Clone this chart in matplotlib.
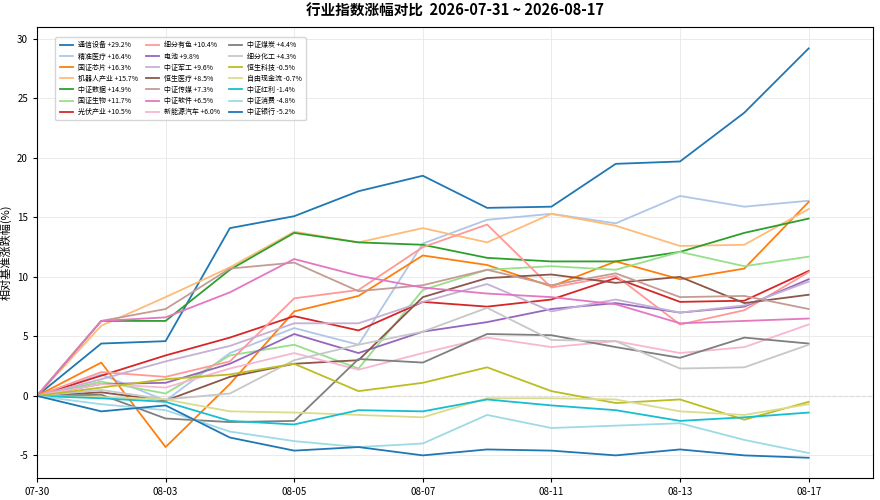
import matplotlib
matplotlib.use("Agg")
import matplotlib.pyplot as plt

plt.rcParams['font.family'] = ['Noto Sans CJK SC', 'DejaVu Sans']
plt.rcParams['axes.unicode_minus'] = False

dates = ["07-30", "07-31", "08-03", "08-04", "08-05", "08-06", "08-07",
         "08-10", "08-11", "08-12", "08-13", "08-14", "08-17"]
tick_labels = ["07-30", "08-03", "08-05", "08-07", "08-11", "08-13", "08-17"]

names = ["通信设备", "精准医疗", "国证芯片", "机器人产业", "中证数据", "国证生物", "光伏产业",
         "细分有色", "电池", "中证军工", "恒生医疗", "中证传媒", "中证软件", "新能源汽车",
         "中证煤炭", "细分化工", "恒生科技", "自由现金流", "中证红利", "中证消费", "中证银行"]

s_tongxin = [0, 4.4, 4.6, 14.1, 15.1, 17.2, 18.5, 15.8, 15.9, 19.5, 19.7, 23.8, 29.2]
s_jingzhun = [0, 1.8, -0.4, 3.6, 5.7, 4.3, 12.8, 14.8, 15.3, 14.5, 16.8, 15.9, 16.4]
s_xinpian = [0, 2.8, -4.3, 1.0, 7.1, 8.4, 11.8, 11.0, 9.2, 11.3, 9.8, 10.7, 16.3]
s_jiqiren = [0, 5.9, 8.3, 10.8, 13.8, 12.9, 14.1, 12.9, 15.3, 14.3, 12.6, 12.7, 15.7]
s_shuju = [0, 6.3, 6.3, 10.6, 13.7, 12.9, 12.7, 11.6, 11.3, 11.3, 12.1, 13.7, 14.9]
s_shengwu = [0, 1.2, 0.2, 3.4, 4.3, 2.3, 8.9, 10.6, 10.9, 10.6, 12.1, 10.9, 11.7]
s_guangfu = [0, 1.7, 3.4, 4.9, 6.7, 5.5, 7.9, 7.5, 8.1, 9.9, 7.9, 8.0, 10.5]
s_youse = [0, 2.0, 1.6, 2.9, 8.2, 8.9, 12.5, 14.4, 9.1, 10.1, 6.0, 7.2, 10.4]
s_dianchi = [0, 1.0, 1.1, 2.7, 5.2, 3.6, 5.4, 6.2, 7.3, 7.8, 7.0, 7.5, 9.8]
s_jungong = [0, 1.4, 2.9, 4.2, 6.1, 6.1, 7.9, 9.4, 7.1, 8.1, 7.0, 7.6, 9.6]
s_hsyiliao = [0, 0.3, -0.4, 1.6, 2.7, 3.0, 8.3, 9.9, 10.2, 9.5, 10.0, 7.8, 8.5]
s_chuanmei = [0, 6.3, 7.3, 10.7, 11.2, 8.8, 9.3, 10.6, 9.3, 10.3, 8.3, 8.4, 7.3]
s_ruanjian = [0, 6.3, 6.6, 8.7, 11.5, 10.1, 9.1, 8.6, 8.3, 7.7, 6.1, 6.3, 6.5]
s_xinnengyuan = [0, 1.0, 0.7, 2.3, 3.6, 2.2, 3.6, 4.9, 4.1, 4.6, 3.6, 4.1, 6.0]
s_meitan = [0, 0.1, -1.9, -2.2, -2.1, 3.1, 2.8, 5.2, 5.1, 4.1, 3.2, 4.9, 4.4]
s_huagong = [0, 0.5, -0.3, 0.2, 3.0, 4.3, 5.4, 7.4, 4.7, 4.6, 2.3, 2.4, 4.3]
s_hskeji = [0, 0.7, 1.4, 1.8, 2.7, 0.4, 1.1, 2.4, 0.4, -0.6, -0.3, -2.0, -0.5]
s_xianjinliu = [0, -0.1, -0.3, -1.3, -1.4, -1.6, -1.8, -0.2, -0.2, -0.3, -1.3, -1.6, -0.7]
s_hongli = [0, -0.2, -0.5, -2.1, -2.4, -1.2, -1.3, -0.3, -0.8, -1.2, -2.1, -1.8, -1.4]
s_xiaofei = [0, -0.7, -1.2, -3.0, -3.8, -4.3, -4.0, -1.6, -2.7, -2.5, -2.3, -3.7, -4.8]
s_yinhang = [0, -1.3, -0.8, -3.5, -4.6, -4.3, -5.0, -4.5, -4.6, -5.0, -4.5, -5.0, -5.2]

series = [s_tongxin, s_jingzhun, s_xinpian, s_jiqiren, s_shuju, s_shengwu, s_guangfu,
          s_youse, s_dianchi, s_jungong, s_hsyiliao, s_chuanmei, s_ruanjian, s_xinnengyuan,
          s_meitan, s_huagong, s_hskeji, s_xianjinliu, s_hongli, s_xiaofei, s_yinhang]

colors = list(plt.get_cmap('tab20').colors)

fig = plt.figure(figsize=(8.8, 5.0), dpi=100)
ax = fig.add_axes([0.042, 0.044, 0.950, 0.902])

x = list(range(len(dates)))
for i, (name, vals) in enumerate(zip(names, series)):
    ax.plot(x, vals, color=colors[i % 20], linewidth=1.3,
            label=f"{name} {vals[-1]:+.1f}%")

ax.axhline(0, color='#aaaaaa', linewidth=0.8, linestyle='--', zorder=0)

ax.set_xlim(0, 13.0)
ax.set_ylim(-6.9, 31.0)
tick_pos = [dates.index(t) for t in tick_labels]
ax.set_xticks(tick_pos)
ax.set_xticklabels(tick_labels, fontsize=7)
ax.set_yticks([-5, 0, 5, 10, 15, 20, 25, 30])
ax.tick_params(axis='y', labelsize=7, length=3)
ax.tick_params(axis='x', length=3)
ax.grid(True, color='#e8e8e8', linewidth=0.6)
ax.set_axisbelow(True)
ax.set_ylabel("相对基准涨跌幅(%)", fontsize=8, labelpad=4)

ax.set_title("行业指数涨幅对比  2026-07-31 ~ 2026-08-17", fontsize=10.5,
             fontweight='bold', pad=8)

leg = ax.legend(loc='upper left', ncol=3, fontsize=5.0, frameon=True,
                bbox_to_anchor=(0.018, 0.985), handlelength=1.9,
                handletextpad=0.7, columnspacing=1.2, labelspacing=0.45,
                borderpad=0.6)
leg.get_frame().set_edgecolor('#cccccc')

fig.savefig("out.png", dpi=100)
